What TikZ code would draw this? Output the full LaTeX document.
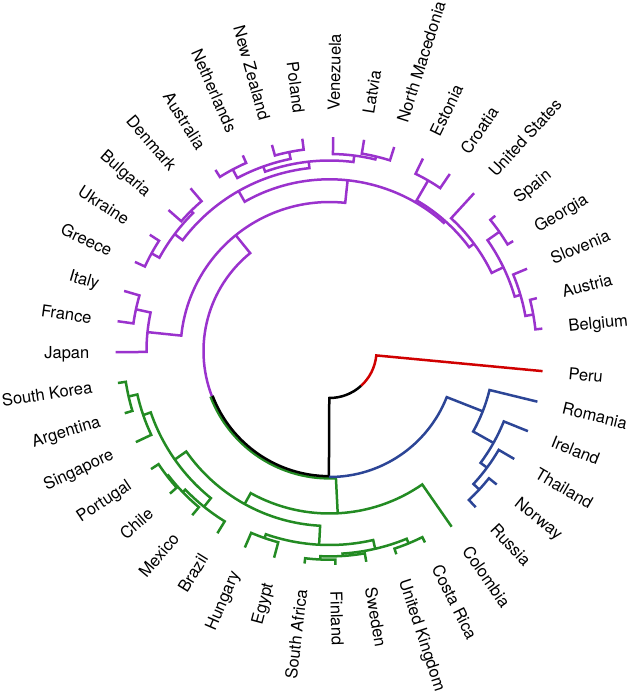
\documentclass[tikz,border=0pt]{standalone}
\usepackage{fontspec}
\setmainfont{TeX Gyre Heros}
\definecolor{pur}{HTML}{9A32CD}
\definecolor{grn}{HTML}{238B23}
\definecolor{blu}{HTML}{2C4596}
\definecolor{rd}{HTML}{D00000}
% clade: colour, angle1, radius1, node radius, angle2, radius2
\newcommand{\cl}[6]{\draw[#1] (#2:#3pt) -- (#2:#4pt) arc[start angle=#2, end angle=#5, radius=#4pt] -- (#5:#6pt);}
\newcommand{\labR}[3]{\node[lab, rotate=#2, anchor=west] (#1) at (#2:239pt) {#3};}
\newcommand{\labL}[3]{\node[lab, rotate=#2+180, anchor=east] (#1) at (#2:239pt) {#3};}
\begin{document}
\begin{tikzpicture}[x=1pt,y=1pt,line width=2.5pt,
  lab/.style={font=\fontsize{16.5}{19}\selectfont, inner sep=0pt, text height=11.9pt, text depth=0pt}]
\useasboundingbox (-329.5,-345) rectangle (299.5,351);
\coordinate (root) at (0,0);
% root
\draw[rd] (-47.83:47pt) arc[start angle=-47.83, end angle=-5.4, radius=47pt] -- (-5.4:214pt);
\draw[black] (-90.27:126pt) -- (-90.27:47pt) arc[start angle=-90.27, end angle=-47.83, radius=47pt];
% level 1 and 2 arcs
\draw[grn] (-159.05:127.4pt) arc[start angle=-159.05, end angle=-87.103, radius=127.4pt] -- (-87.103:162.5pt);
\draw[pur] (-159.05:126pt) arc[start angle=-159.05, end angle=-230.992, radius=126pt] -- (-230.992:149pt);
\draw[blu] (-90.27:126pt) arc[start angle=-90.27, end angle=-21.48, radius=126pt] -- (-21.48:164.7pt);
\draw[black] (-90.27:125.2pt) arc[start angle=-90.27, end angle=-159.05, radius=125.2pt];
% blue clade
\cl{blu}{-38.6}{214}{204}{-46.9}{214}
\cl{blu}{-30.3}{214}{196}{-42.75}{204}
\cl{blu}{-22.0}{214}{188}{-36.525}{196}
\cl{blu}{-13.7}{214}{164.7}{-29.2625}{188}
% green clade
\cl{grn}{-88.4}{214}{208.7}{-96.7}{214}
\cl{grn}{-80.1}{214}{205.4}{-92.55}{208.7}
\cl{grn}{-63.5}{214}{208}{-71.8}{214}
\cl{grn}{-67.65}{208}{203}{-86.325}{205.4}
\cl{grn}{-113.3}{214}{198}{-105.0}{214}
\cl{grn}{-109.15}{198}{194}{-76.9875}{203}
\cl{grn}{-171.4}{214}{206}{-163.1}{214}
\cl{grn}{-154.8}{214}{197}{-167.25}{206}
\cl{grn}{-138.2}{214}{205}{-146.5}{214}
\cl{grn}{-129.9}{214}{203.6}{-142.35}{205}
\cl{grn}{-121.6}{214}{200}{-136.125}{203.6}
\cl{grn}{-161.025}{197}{189}{-128.8625}{200}
\cl{grn}{-144.944}{189}{175}{-93.069}{194}
\cl{grn}{-55.2}{214}{162.5}{-119.006}{175}
% purple clade
\cl{pur}{172.0}{214}{198}{163.7}{214}
\cl{pur}{180.3}{214}{183}{167.85}{198}
\cl{pur}{155.4}{214}{203}{147.1}{214}
\cl{pur}{138.8}{214}{197}{130.5}{214}
\cl{pur}{151.25}{203}{194}{134.65}{197}
\cl{pur}{122.2}{214}{205.7}{113.9}{214}
\cl{pur}{105.6}{214}{203}{97.3}{214}
\cl{pur}{118.05}{205.7}{196}{101.45}{203}
\cl{pur}{80.7}{214}{200}{72.4}{214}
\cl{pur}{89.0}{214}{197}{76.55}{200}
\cl{pur}{109.75}{196}{190.5}{82.775}{197}
\cl{pur}{142.95}{194}{184}{96.2625}{190.5}
\cl{pur}{64.1}{214}{197}{55.8}{214}
\cl{pur}{39.2}{214}{207.5}{30.9}{214}
\cl{pur}{14.3}{214}{207}{6.0}{214}
\cl{pur}{22.6}{214}{199}{10.15}{207}
\cl{pur}{35.05}{207.5}{193}{16.375}{199}
\cl{pur}{47.5}{214}{180}{25.7125}{193}
\cl{pur}{59.95}{197}{174}{36.606}{180}
\cl{pur}{119.606}{184}{171.7}{48.278}{174}
\cl{pur}{174.075}{183}{149}{83.942}{171.7}
% labels
\labR{peru}{-5.4}{Peru}
\labR{romania}{-13.7}{Romania}
\labR{ireland}{-22.0}{Ireland}
\labR{thailand}{-30.3}{Thailand}
\labR{norway}{-38.6}{Norway}
\labR{russia}{-46.9}{Russia}
\labR{colombia}{-55.2}{Colombia}
\labR{costarica}{-63.5}{Costa Rica}
\labR{uk}{-71.8}{United Kingdom}
\labR{sweden}{-80.1}{Sweden}
\labR{finland}{-88.4}{Finland}
\labL{southafrica}{-96.7}{South Africa}
\labL{egypt}{-105.0}{Egypt}
\labL{hungary}{-113.3}{Hungary}
\labL{brazil}{-121.6}{Brazil}
\labL{mexico}{-129.9}{Mexico}
\labL{chile}{-138.2}{Chile}
\labL{portugal}{-146.5}{Portugal}
\labL{singapore}{-154.8}{Singapore}
\labL{argentina}{-163.1}{Argentina}
\labL{southkorea}{-171.4}{South Korea}
\labL{japan}{180.3}{Japan}
\labL{france}{172.0}{France}
\labL{italy}{163.7}{Italy}
\labL{greece}{155.4}{Greece}
\labL{ukraine}{147.1}{Ukraine}
\labL{bulgaria}{138.8}{Bulgaria}
\labL{denmark}{130.5}{Denmark}
\labL{australia}{122.2}{Australia}
\labL{netherlands}{113.9}{Netherlands}
\labL{newzealand}{105.6}{New Zealand}
\labL{poland}{97.3}{Poland}
\labR{venezuela}{89.0}{Venezuela}
\labR{latvia}{80.7}{Latvia}
\labR{northmacedonia}{72.4}{North Macedonia}
\labR{estonia}{64.1}{Estonia}
\labR{croatia}{55.8}{Croatia}
\labR{us}{47.5}{United States}
\labR{spain}{39.2}{Spain}
\labR{georgia}{30.9}{Georgia}
\labR{slovenia}{22.6}{Slovenia}
\labR{austria}{14.3}{Austria}
\labR{belgium}{6.0}{Belgium}
\end{tikzpicture}
\end{document}
